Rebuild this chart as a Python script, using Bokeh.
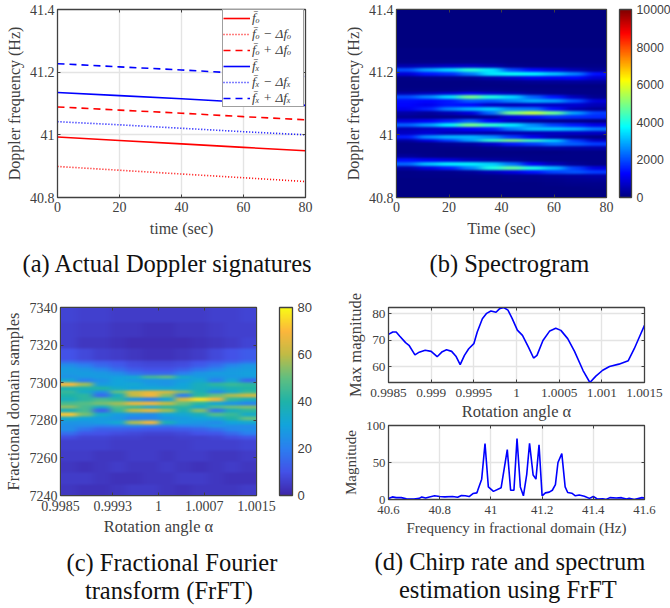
import numpy as np
from bokeh.document import Document
from bokeh.embed import file_html
from bokeh.resources import INLINE
from bokeh.layouts import column, row
from bokeh.models import (ColorBar, CustomJS, FixedTicker, Legend, LegendItem, LinearAxis,
                          LinearColorMapper, Range1d, Title)
from bokeh.plotting import figure

# ---------- (a) Doppler signatures ----------
sig_time = [0, 20, 40, 60, 80]
f_o = [40.993, 40.982, 40.971, 40.960, 40.949]
f_o_minus = [40.899, 40.887, 40.875, 40.863, 40.851]
f_o_plus = [41.089, 41.079, 41.069, 41.058, 41.048]
f_x = [41.135, 41.125, 41.115, 41.104, 41.094]
f_x_minus = [41.042, 41.032, 41.021, 41.010, 41.000]
f_x_plus = [41.227, 41.217, 41.207, 41.196, 41.186]
sig_labels = ["f̄ₒ", "f̄ₒ − Δfₒ", "f̄ₒ + Δfₒ", "f̄ₓ", "f̄ₓ − Δfₓ", "f̄ₓ + Δfₓ"]

# ---------- (b) Spectrogram: rows bottom to top, 0.0125 Hz each, 10 time columns ----------
spec_rows = [
    [60, 60, 60, 60, 60, 60, 60, 60, 60, 60],
    [60, 60, 60, 60, 60, 60, 60, 60, 60, 60],
    [70, 60, 60, 60, 60, 60, 60, 60, 70, 80],
    [70, 70, 60, 60, 70, 70, 70, 80, 120, 150],
    [70, 70, 70, 70, 70, 80, 100, 150, 200, 250],
    [100, 100, 100, 100, 100, 150, 150, 250, 350, 400],
    [100, 120, 150, 270, 550, 960, 1440, 1880, 2080, 1800],
    [410, 960, 1550, 2530, 4000, 4700, 4000, 3070, 1870, 950],
    [2230, 3200, 3600, 3630, 3310, 2400, 1200, 560, 230, 100],
    [1370, 1150, 900, 550, 370, 240, 120, 100, 100, 100],
    [300, 150, 100, 100, 100, 100, 100, 100, 100, 100],
    [100, 80, 70, 70, 70, 70, 70, 70, 90, 110],
    [100, 100, 100, 100, 140, 200, 260, 360, 380, 450],
    [100, 100, 220, 340, 780, 1500, 1850, 2340, 2170, 1800],
    [380, 940, 1820, 2740, 4280, 5000, 4300, 3350, 1800, 770],
    [1500, 2600, 2980, 3040, 2620, 1800, 1080, 500, 200, 100],
    [690, 840, 610, 560, 450, 470, 530, 660, 700, 700],
    [550, 700, 925, 1250, 1510, 2470, 3130, 3170, 2940, 2400],
    [2160, 2740, 3630, 4900, 4200, 3530, 2590, 1880, 1500, 1030],
    [950, 1200, 1590, 2150, 1260, 530, 290, 170, 150, 100],
    [200, 150, 130, 150, 250, 1000, 1400, 1730, 1710, 1660],
    [400, 290, 520, 900, 2280, 4900, 5600, 4800, 2790, 1840],
    [1100, 1580, 2500, 3000, 3260, 2500, 2400, 1440, 510, 280],
    [1300, 1100, 1475, 1330, 740, 560, 700, 680, 820, 550],
    [1400, 1300, 1500, 2150, 2100, 2540, 2960, 2780, 2000, 880],
    [1960, 2550, 3430, 4900, 4030, 3390, 2210, 1450, 600, 180],
    [500, 650, 875, 1250, 840, 550, 270, 150, 100, 100],
    [100, 100, 100, 150, 150, 100, 100, 100, 100, 100],
    [70, 70, 70, 70, 70, 70, 70, 70, 70, 70],
    [70, 70, 70, 70, 100, 150, 200, 250, 300, 300],
    [100, 150, 170, 215, 440, 780, 1110, 1150, 1300, 855],
    [860, 1450, 1700, 2450, 3520, 3820, 3700, 3200, 2500, 1400],
    [2000, 2840, 3330, 4130, 3520, 1950, 1330, 960, 520, 255],
    [500, 580, 680, 730, 440, 195, 110, 100, 100, 100],
    [100, 100, 100, 100, 80, 70, 70, 70, 70, 70],
    [50, 50, 50, 50, 50, 50, 50, 50, 50, 50],
    [40, 40, 40, 40, 40, 40, 40, 40, 40, 40],
    [40, 40, 40, 40, 40, 40, 40, 40, 40, 40],
    [30, 30, 30, 30, 30, 30, 30, 30, 30, 30],
    [30, 30, 30, 30, 30, 30, 30, 30, 30, 30],
    [30, 30, 30, 30, 30, 30, 30, 30, 30, 30],
    [30, 30, 30, 30, 30, 30, 30, 30, 30, 30],
    [20, 20, 20, 20, 20, 20, 20, 20, 20, 20],
    [20, 20, 20, 20, 20, 20, 20, 20, 20, 20],
    [20, 20, 20, 20, 20, 20, 20, 20, 20, 20],
    [20, 20, 20, 20, 20, 20, 20, 20, 20, 20],
    [20, 20, 20, 20, 20, 20, 20, 20, 20, 20],
    [20, 20, 20, 20, 20, 20, 20, 20, 20, 20],
]

# ---------- (c) FrFT: 12 alpha columns, rows of 2 samples, top (7340) to bottom (7240) ----------
frft_top_rows = (
    [[7, 6, 6, 5, 5, 5, 5, 5, 5, 6, 6, 7]] * 4
    + [[6, 5, 5, 4, 4, 3, 3, 4, 4, 5, 6, 6]] * 4
    + [[6, 4, 4, 3, 2, 2, 2, 2, 3, 4, 5, 7]] * 3
    + [[10, 8, 6, 5, 4, 3, 3, 4, 5, 8, 10, 12]] * 3
)
frft_mid_rows = [   # 7312 .. 7270, 21 rows
    [16, 14, 12, 10, 8, 7, 7, 8, 10, 12, 14, 17],
    [24, 20, 15, 12, 9, 8, 8, 9, 12, 16, 22, 26],
    [28, 26, 22, 16, 12, 10, 10, 13, 18, 22, 27, 28],
    [27, 28, 27, 24, 18, 15, 15, 20, 26, 28, 28, 29],
    [25, 27, 28, 29, 32, 46, 50, 34, 28, 26, 27, 28],
    [32, 20, 25, 30, 28, 26, 26, 28, 32, 20, 32, 15],
    [70, 56, 28, 30, 32, 28, 26, 30, 36, 42, 44, 42],
    [38, 38, 40, 34, 30, 32, 32, 32, 36, 34, 38, 40],
    [44, 34, 24, 50, 62, 66, 64, 54, 38, 22, 34, 44],
    [40, 42, 16, 36, 60, 68, 54, 20, 42, 50, 58, 62],
    [36, 42, 46, 42, 26, 20, 30, 64, 76, 68, 42, 36],
    [46, 48, 52, 56, 66, 68, 60, 50, 42, 32, 26, 22],
    [56, 46, 34, 48, 42, 30, 40, 42, 32, 48, 52, 54],
    [36, 46, 14, 44, 60, 66, 56, 38, 54, 18, 36, 42],
    [72, 52, 34, 28, 26, 24, 30, 32, 36, 48, 44, 34],
    [34, 30, 28, 26, 20, 22, 26, 28, 30, 32, 40, 50],
    [26, 26, 28, 32, 58, 68, 36, 28, 26, 24, 30, 32],
    [24, 23, 20, 20, 22, 20, 18, 20, 22, 26, 24, 23],
    [24, 17, 13, 13, 12, 11, 11, 12, 14, 17, 22, 24],
    [16, 11, 10, 9, 8, 7, 7, 8, 10, 11, 15, 20],
    [9, 7, 7, 6, 6, 5, 5, 6, 6, 7, 9, 11],
]
frft_low_rows = (
    [[6, 6, 6, 5, 5, 5, 5, 5, 6, 6, 6, 7]] * 3
    + [[5, 5, 4, 4, 5, 5, 4, 5, 5, 4, 4, 5]] * 3
    + [[4, 3, 4, 5, 4, 4, 5, 4, 3, 4, 5, 4]] * 3
    + [[5, 5, 4, 3, 3, 4, 4, 5, 5, 4, 3, 3]] * 3
    + [[4, 3, 3, 4, 5, 5, 4, 3, 4, 4, 4, 5]] * 3
)

# ---------- (d) top: max magnitude vs rotation angle ----------
angle = [0.9985, 0.99855, 0.99859, 0.99863, 0.9987, 0.99874, 0.99881, 0.99886, 0.99893, 0.999,
         0.99907, 0.99913, 0.99918, 0.99924, 0.99929, 0.99934, 0.99939, 0.99944, 0.9995, 0.99954,
         0.9996, 0.99965, 0.9997, 0.99976, 0.9998, 0.99985, 0.9999, 0.99995, 1.00001, 1.00007,
         1.00014, 1.0002, 1.00024, 1.00031, 1.00039, 1.00046, 1.00052, 1.0006, 1.00068, 1.00078,
         1.00086, 1.00093, 1.00101, 1.00109, 1.0012, 1.00131, 1.00138, 1.00144, 1.0015]
max_mag = [72.2, 73.1, 73.1, 71.6, 69.1, 68.1, 64.5, 65.5, 66.2, 65.8,
           63.8, 65.7, 66.4, 65.8, 64.0, 60.8, 64.3, 66.8, 68.7, 73.1,
           78.1, 80.1, 81.0, 80.5, 81.8, 82.3, 81.3, 78.1, 73.8, 71.8,
           67.4, 63.3, 64.3, 69.9, 73.5, 74.5, 73.7, 70.6, 65.8, 58.6,
           54.1, 56.5, 58.7, 60.1, 61.0, 62.3, 66.8, 71.2, 75.6]

# ---------- (d) bottom: magnitude vs frequency ----------
freq = [40.6, 40.615, 40.63, 40.65, 40.67, 40.7, 40.72, 40.73, 40.745, 40.76, 40.78, 40.8, 40.82,
        40.85, 40.87, 40.885, 40.9, 40.915, 40.93, 40.945, 40.948, 40.964, 40.977, 40.99, 41.01,
        41.04, 41.064, 41.077, 41.09, 41.102, 41.115, 41.127, 41.14, 41.151, 41.165, 41.176,
        41.188, 41.2, 41.213, 41.228, 41.24, 41.252, 41.262, 41.277, 41.29, 41.3, 41.316, 41.33,
        41.345, 41.365, 41.385, 41.4, 41.417, 41.437, 41.45, 41.465, 41.49, 41.51, 41.53, 41.54,
        41.56, 41.59, 41.6]
magnitude = [1.5, 3.5, 2.5, 2.5, 1, 0.5, 1.5, 3.5, 2, 3.5, 5, 4, 3.5,
             4, 3, 5.5, 5, 4, 8, 9, 11.7, 27.5, 75.7, 17, 11,
             16, 67.5, 12.6, 12.6, 82.4, 17, 5, 34, 76, 33, 27.5,
             74, 5, 9, 10, 12.5, 20, 50, 62, 17, 9.5, 8.5, 5,
             6, 4.5, 1.5, 4, 0.5, 1, 0, 2.5, 2, 2.5, 0.5, 1.5,
             0, 2.5, 2]

# ---------- tick labels ----------
sig_xticks = [0, 20, 40, 60, 80]
doppler_yticks = [40.8, 41, 41.2, 41.4]
spec_ticks = [0, 2000, 4000, 6000, 8000, 10000]
frft_xticks = [0.9985, 0.9993, 1, 1.0007, 1.0015]
frft_yticks = [7240, 7260, 7280, 7300, 7320, 7340]
frft_cticks = [0, 20, 40, 60, 80]
mag_xticks = [0.9985, 0.999, 0.9995, 1, 1.0005, 1.001, 1.0015]
mag_yticks = [60, 70, 80]
spect_xticks = [40.6, 40.8, 41, 41.2, 41.4, 41.6]
spect_yticks = [0, 50, 100]

SERIF = "Liberation Serif"
SANS = "Liberation Sans"
DARK = "#404040"


def anchors_palette(colors):
    rgb = np.array([[int(c[i:i + 2], 16) for i in (1, 3, 5)] for c in colors], float)
    pos = np.linspace(0, 1, len(colors))
    t = np.linspace(0, 1, 256)
    out = np.stack([np.interp(t, pos, rgb[:, k]) for k in range(3)], axis=1).round().astype(int)
    return ["#%02x%02x%02x" % tuple(v) for v in out]


JET = anchors_palette(["#00007f", "#0000ff", "#007fff", "#00ffff", "#7fff7f",
                       "#ffff00", "#ff7f00", "#ff0000", "#7f0000"])
PARULA = anchors_palette(["#3e26a8", "#4352e8", "#2b7ff0", "#12a4dc", "#1fb3a8",
                          "#60bf80", "#c0bb45", "#fcb63c", "#f9fb15"])


def fmt(v):
    return ("%.6f" % v).rstrip("0").rstrip(".")


def make(xr, yr, xt, yt, fw, fh, left, right, top, bottom, xlabel, ylabel, tick_size, label_size,
         xstand, ystand, grid=True, xtick_stand=3):
    p = figure(output_backend="svg", toolbar_location=None, x_range=Range1d(*xr), y_range=Range1d(*yr),
               frame_width=fw, frame_height=fh, min_border_left=left, min_border_right=right,
               min_border_top=top, min_border_bottom=bottom, tools="", background_fill_color="white")
    p.outline_line_color = DARK
    p.outline_line_width = 1.3
    for ax, ticks, lab, stand, tst in ((p.xaxis[0], xt, xlabel, xstand, xtick_stand),
                                       (p.yaxis[0], yt, ylabel, ystand, 3)):
        ax.ticker = FixedTicker(ticks=ticks)
        ax.major_label_overrides = {t: fmt(t) for t in ticks}
        ax.axis_label = lab
        ax.axis_label_text_font = SERIF
        ax.axis_label_text_font_style = "normal"
        ax.axis_label_text_font_size = label_size
        ax.axis_label_text_color = DARK
        ax.axis_label_standoff = stand
        ax.major_label_text_font = SERIF
        ax.major_label_text_font_size = tick_size
        ax.major_label_text_color = DARK
        ax.major_label_standoff = tst
        ax.major_tick_in = 3
        ax.major_tick_out = 0
        ax.minor_tick_line_color = None
        ax.axis_line_color = DARK
        ax.major_tick_line_color = DARK
    for side, ticks in (("above", xt), ("right", yt)):
        extra = LinearAxis(ticker=FixedTicker(ticks=ticks),
                           major_label_overrides={t: "" for t in ticks},
                           major_tick_in=3, major_tick_out=0, minor_tick_line_color=None,
                           axis_line_color=DARK, major_tick_line_color=DARK,
                           major_label_standoff=0)
        p.add_layout(extra, side)
    if grid:
        p.grid.grid_line_color = "#e4e4e4"
        p.grid.grid_line_width = 1.4
    else:
        p.grid.visible = False
    p.xgrid.ticker = FixedTicker(ticks=xt)
    p.ygrid.ticker = FixedTicker(ticks=yt)
    return p


def caption(p, text, offset, standoff, line_height=1.0):
    p.add_layout(Title(text=text, align="left", offset=offset, standoff=standoff, text_font=SERIF,
                       text_font_size="24.5px", text_font_style="normal", text_color="#111111",
                       text_line_height=line_height), "below")


def colorbar(p, mapper, ticks, x, width, height, size):
    cb = ColorBar(color_mapper=mapper, ticker=FixedTicker(ticks=ticks),
                  major_label_overrides={t: str(t) for t in ticks},
                  location=(x, 0), width=width, height=height, padding=0, margin=0,
                  background_fill_color=None, border_line_color=None,
                  bar_line_color=DARK, bar_line_width=1.3, major_tick_line_color=None,
                  minor_tick_line_color=None, major_label_text_font=SANS,
                  major_label_text_font_size=size, major_label_text_color=DARK, label_standoff=5)
    p.add_layout(cb, "center")


def shaded(p, rows, x0, y0, col_w, row_h, mapper):
    # edge rows/columns repeat beyond the frame, so the browser's shading reaches the frame edge
    arr = np.pad(np.array(rows, float), ((4, 4), (2, 2)), mode="edge")
    p.image(image=[arr], x=x0 - 2 * col_w, y=y0 - 4 * row_h, dw=arr.shape[1] * col_w,
            dh=arr.shape[0] * row_h, color_mapper=mapper)


# (a)
pa = make((0, 80), (40.8, 41.4), sig_xticks, doppler_yticks, 248, 188, 57, 30, 9, 88,
          "time (sec)", "Doppler frequency (Hz)", "14px", "16px", 5, 4, xtick_stand=4)
series = [(f_o, "red", "solid"), (f_o_minus, "red", "dotted"), (f_o_plus, "red", "dashed"),
          (f_x, "blue", "solid"), (f_x_minus, "blue", "dotted"), (f_x_plus, "blue", "dashed")]
items = []
for vals, col, dash, lab in [s + (l,) for s, l in zip(series, sig_labels)]:
    r = pa.line(sig_time, vals, line_color=col, line_width=1.6,
                line_dash={"solid": "solid", "dotted": "1 2", "dashed": "7 5"}[dash])
    items.append(LegendItem(label=lab, renderers=[r]))
leg = Legend(items=items, location=(165, 90), orientation="vertical", padding=0, margin=0, spacing=0,
             label_text_font=SERIF, label_text_font_size="13.5px", label_text_font_style="italic",
             label_height=16, glyph_height=16, glyph_width=27, label_standoff=2, label_width=51,
             border_line_color=DARK, border_line_width=1.3,
             background_fill_alpha=1.0, label_text_color=DARK)
pa.add_layout(leg, "center")
caption(pa, "(a) Actual Doppler signatures", -35, 17)

# (b)
pb = make((0, 80), (40.8, 41.4), sig_xticks, doppler_yticks, 210, 188, 61, 64, 9, 88,
          "Time (sec)", "Doppler frequency (Hz)", "14px", "16px", 5, 4, grid=False, xtick_stand=4)
jet_map = LinearColorMapper(palette=JET, low=0, high=10000)
shaded(pb, spec_rows, 0, 40.8, 8, 0.0125, jet_map)
colorbar(pb, jet_map, spec_ticks, 223, 12, 188, "12.3px")
caption(pb, "(b) Spectrogram", 33, 17)

# (c)
pc = make((0.9985, 1.0015), (7240, 7340), frft_xticks, frft_yticks, 196, 188, 60, 79, 22, 113,
          "Rotation angle α", "Fractional domain samples", "14px", "16.5px", 3, 4, grid=False,
          xtick_stand=5)
par_map = LinearColorMapper(palette=PARULA, low=0, high=80)
shaded(pc, (frft_top_rows + frft_mid_rows + frft_low_rows)[::-1], 0.9985, 7240, 0.00025, 2, par_map)
colorbar(pc, par_map, frft_cticks, 219, 13, 188, "13px")
caption(pc, "(c) Fractional Fourier\n\u00a0\u00a0\u00a0transform (FrFT)", 6, 16, 1.06)

# (d)
pd1 = make((0.9985, 1.0015), (54.1, 82.3), mag_xticks, mag_yticks, 256, 75, 53, 27, 22, 34,
           "Rotation angle α", "Max magnitude", "13.3px", "16.5px", 2, 4, xtick_stand=6)
pd1.line(angle, max_mag, line_color="blue", line_width=1.6)

pd2 = make((40.6, 41.6), (0, 100), spect_xticks, spect_yticks, 256, 74, 53, 27, 9, 109,
           "Frequency in fractional domain (Hz)", "Magnitude", "12.8px", "15px", 3, 4, xtick_stand=6)
pd2.border_fill_color = None
pd2.margin = (-7, 0, 0, 0)
pd2.line(freq, magnitude, line_color="blue", line_width=1.6)
caption(pd2, "(d) Chirp rate and spectrum\n\u00a0\u00a0\u00a0\u00a0estimation using FrFT", -14, 14, 1.06)

# The images are shaded in the browser (like MATLAB's interpolated shading), the data stay as read.
SHADE = """
function find(root, out) {
  root.querySelectorAll('*').forEach(e => {
    if (e.tagName.toLowerCase() === 'image') out.push(e);
    if (e.shadowRoot) find(e.shadowRoot, out);
  });
  return out;
}
let runs = 0;
const timer = setInterval(() => {
  for (const im of find(document, [])) {
    if (im.getAttribute('data-shaded')) continue;
    const svg = im.ownerSVGElement;
    const w = parseFloat(im.getAttribute('width')) || 0;
    if (w < 100) continue;
    const std = w > 285 ? '6 0.9' : '3.5 0.8';
    const id = 'shade' + Math.round(w);
    if (!svg.querySelector('#' + id)) {
      const ns = 'http://www.w3.org/2000/svg';
      const f = document.createElementNS(ns, 'filter');
      f.setAttribute('id', id);
      f.setAttribute('color-interpolation-filters', 'sRGB');
      const b = document.createElementNS(ns, 'feGaussianBlur');
      b.setAttribute('stdDeviation', std);
      f.appendChild(b);
      svg.appendChild(f);
    }
    im.setAttribute('filter', 'url(#' + id + ')');
    im.setAttribute('data-shaded', '1');
  }
  if (++runs > 40) clearInterval(timer);
}, 50);
"""

root = column(row(pa, pb, spacing=0), row(pc, column(pd1, pd2, spacing=0), spacing=0), spacing=0)
doc = Document()
doc.add_root(root)
doc.js_on_event("document_ready", CustomJS(code=SHADE))
open("out.html", "w").write(file_html(doc, INLINE))
